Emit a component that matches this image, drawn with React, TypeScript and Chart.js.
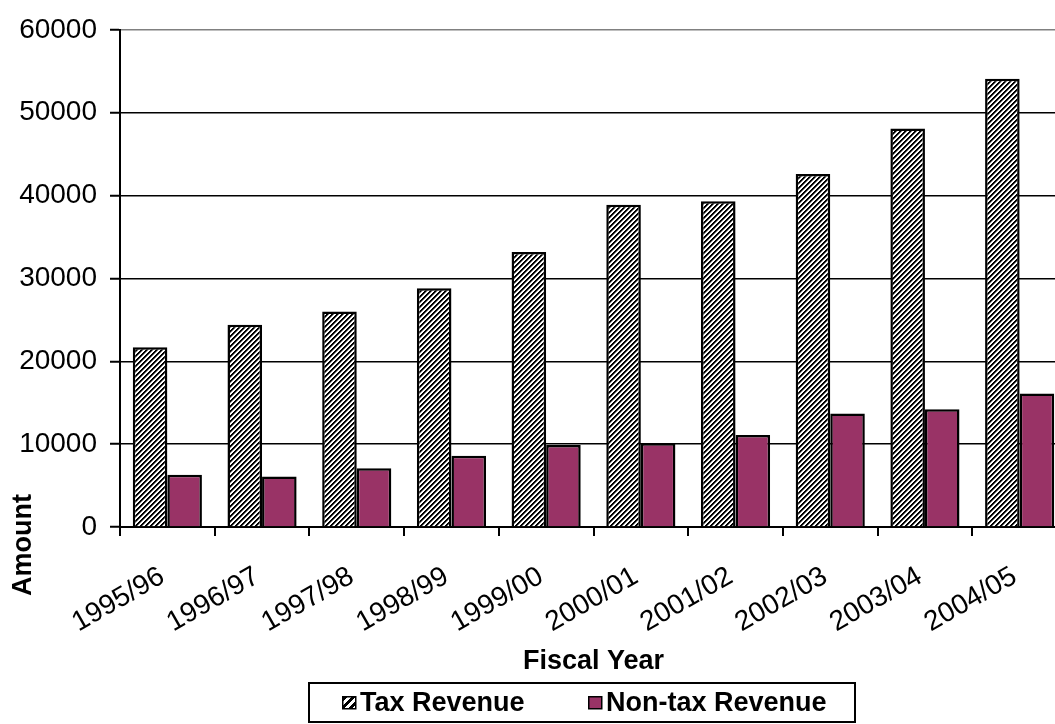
import React, { useEffect, useRef } from "react";
import { Chart, registerables } from "chart.js";

Chart.register(...registerables);

// ---- data ----
const categories = [
  "1995/96", "1996/97", "1997/98", "1998/99", "1999/00",
  "2000/01", "2001/02", "2002/03", "2003/04", "2004/05",
];
const taxRevenue = [21700, 24400, 26000, 28800, 33200, 38900, 39300, 42600, 48100, 54100];
const nonTaxRevenue = [6300, 6100, 7100, 8600, 9900, 10100, 11100, 13700, 14200, 16100];
const yTicks = [0, 10000, 20000, 30000, 40000, 50000, 60000];
const seriesNames = ["Tax Revenue", "Non-tax Revenue"];
const xTitle = "Fiscal Year";
const yTitle = "Amount";

const FONT = "'Liberation Sans', Arial, Helvetica, sans-serif";
const PLUM = "#993366";
const FS = 27;
const TICK_FS = 28;

function makeHatch(ctx: CanvasRenderingContext2D): CanvasPattern {
  const p = 5;
  const c = document.createElement("canvas");
  c.width = p;
  c.height = p;
  const g = c.getContext("2d")!;
  g.fillStyle = "#ffffff";
  g.fillRect(0, 0, p, p);
  for (let x = 0; x < p; x++) {
    for (let y = 0; y < p; y++) {
      const m = (x + y) % p;
      if (m === 0 || m === 1) {
        g.fillStyle = "#000000";
        g.fillRect(x, y, 1, 1);
      } else if (m === 2) {
        g.fillStyle = "#7a7a7a";
        g.fillRect(x, y, 1, 1);
      }
    }
  }
  return ctx.createPattern(c, "repeat")!;
}

function makeLegendHatch(ctx: CanvasRenderingContext2D): CanvasPattern {
  const p = 8;
  const c = document.createElement("canvas");
  c.width = p;
  c.height = p;
  const g = c.getContext("2d")!;
  g.fillStyle = "#ffffff";
  g.fillRect(0, 0, p, p);
  g.fillStyle = "#000000";
  for (let x = 0; x < p; x++) {
    for (let y = 0; y < p; y++) {
      const m = (x + y) % p;
      if (m <= 3) g.fillRect(x, y, 1, 1);
    }
  }
  return ctx.createPattern(c, "repeat")!;
}

export default function App() {
  const ref = useRef<HTMLCanvasElement>(null);

  useEffect(() => {
    const canvas = ref.current!;
    const ctx = canvas.getContext("2d")!;
    const hatch = makeHatch(ctx);
    const legendHatch = makeLegendHatch(ctx);
    const yMax = yTicks[yTicks.length - 1];

    const extras = {
      id: "extras",
      afterDraw(chart: any) {
        const c: CanvasRenderingContext2D = chart.ctx;
        c.save();
        // y axis title (placed low, as in the reference)
        c.font = `bold ${FS}px ${FONT}`;
        c.fillStyle = "#000";
        c.textAlign = "center";
        c.textBaseline = "middle";
        c.translate(24, 545);
        c.rotate(-Math.PI / 2);
        c.fillText(yTitle, 0, 0);
        c.restore();

        // legend box
        c.save();
        c.strokeStyle = "#000";
        c.lineWidth = 2;
        c.strokeRect(309, 683, 546, 39);
        const items = [
          { x: 342, fill: legendHatch as any, label: seriesNames[0] },
          { x: 588, fill: PLUM, label: seriesNames[1] },
        ];
        c.font = `bold ${FS}px ${FONT}`;
        c.textAlign = "left";
        c.textBaseline = "middle";
        for (const it of items) {
          c.fillStyle = it.fill;
          c.fillRect(it.x, 696, 14, 13);
          c.lineWidth = 1.5;
          c.strokeStyle = "#000";
          c.strokeRect(it.x + 0.75, 696.75, 13, 12);
          c.fillStyle = "#000";
          c.fillText(it.label, it.x + 18, 704);
        }
        c.restore();
      },
    };

    const chart = new Chart(ctx, {
      type: "bar",
      data: {
        labels: categories,
        datasets: [
          {
            label: seriesNames[0],
            data: taxRevenue,
            backgroundColor: hatch as any,
            borderColor: "#000",
            borderWidth: 2.5,
            categoryPercentage: 0.73,
            barPercentage: 1,
          },
          {
            label: seriesNames[1],
            data: nonTaxRevenue,
            backgroundColor: PLUM,
            borderColor: "#000",
            borderWidth: 2.5,
            categoryPercentage: 0.73,
            barPercentage: 1,
          },
        ],
      },
      options: {
        animation: false,
        responsive: false,
        devicePixelRatio: 1,
        layout: { padding: { left: 0, top: 28, right: 33, bottom: 44 } },
        plugins: {
          legend: { display: false },
          tooltip: { enabled: false },
        },
        scales: {
          x: {
            offset: true,
            border: { display: true, color: "#000", width: 2 },
            grid: {
              display: true,
              offset: true,
              drawOnChartArea: false,
              drawTicks: true,
              tickLength: 9,
              color: "#000",
              lineWidth: 2,
            },
            ticks: {
              autoSkip: false,
              minRotation: 30,
              maxRotation: 30,
              padding: 24,
              labelOffset: -5,
              color: "#000",
              font: { family: FONT, size: TICK_FS },
            },
            title: {
              display: true,
              text: xTitle,
              color: "#000",
              font: { family: FONT, size: FS, weight: "bold" },
              padding: { top: 0, bottom: 2 },
            },
            afterFit: (s: any) => {
              s.height = 153;
            },
          },
          y: {
            min: 0,
            max: yMax,
            border: { display: true, color: "#000", width: 2 },
            grid: {
              color: (c: any) => (c.tick && c.tick.value === yMax ? "#808080" : "#000"),
              lineWidth: 1.5,
              drawTicks: true,
              tickLength: 10,
              tickColor: "#000",
              tickWidth: 2,
            },
            afterBuildTicks: (s: any) => {
              s.ticks = yTicks.map((v) => ({ value: v }));
            },
            ticks: {
              padding: 13,
              color: "#000",
              font: { family: FONT, size: TICK_FS },
              callback: (v: any) => String(v),
            },
            afterFit: (s: any) => {
              s.width = 120;
            },
          },
        },
      },
      plugins: [extras],
    });
    return () => chart.destroy();
  }, []);

  return (
    <div
      style={{
        position: "fixed",
        left: 0,
        top: 0,
        width: 1055,
        height: 724,
        overflow: "hidden",
        background: "#fff",
      }}
    >
      <canvas ref={ref} width={1100} height={724} style={{ display: "block", width: 1100, height: 724 }} />
    </div>
  );
}
